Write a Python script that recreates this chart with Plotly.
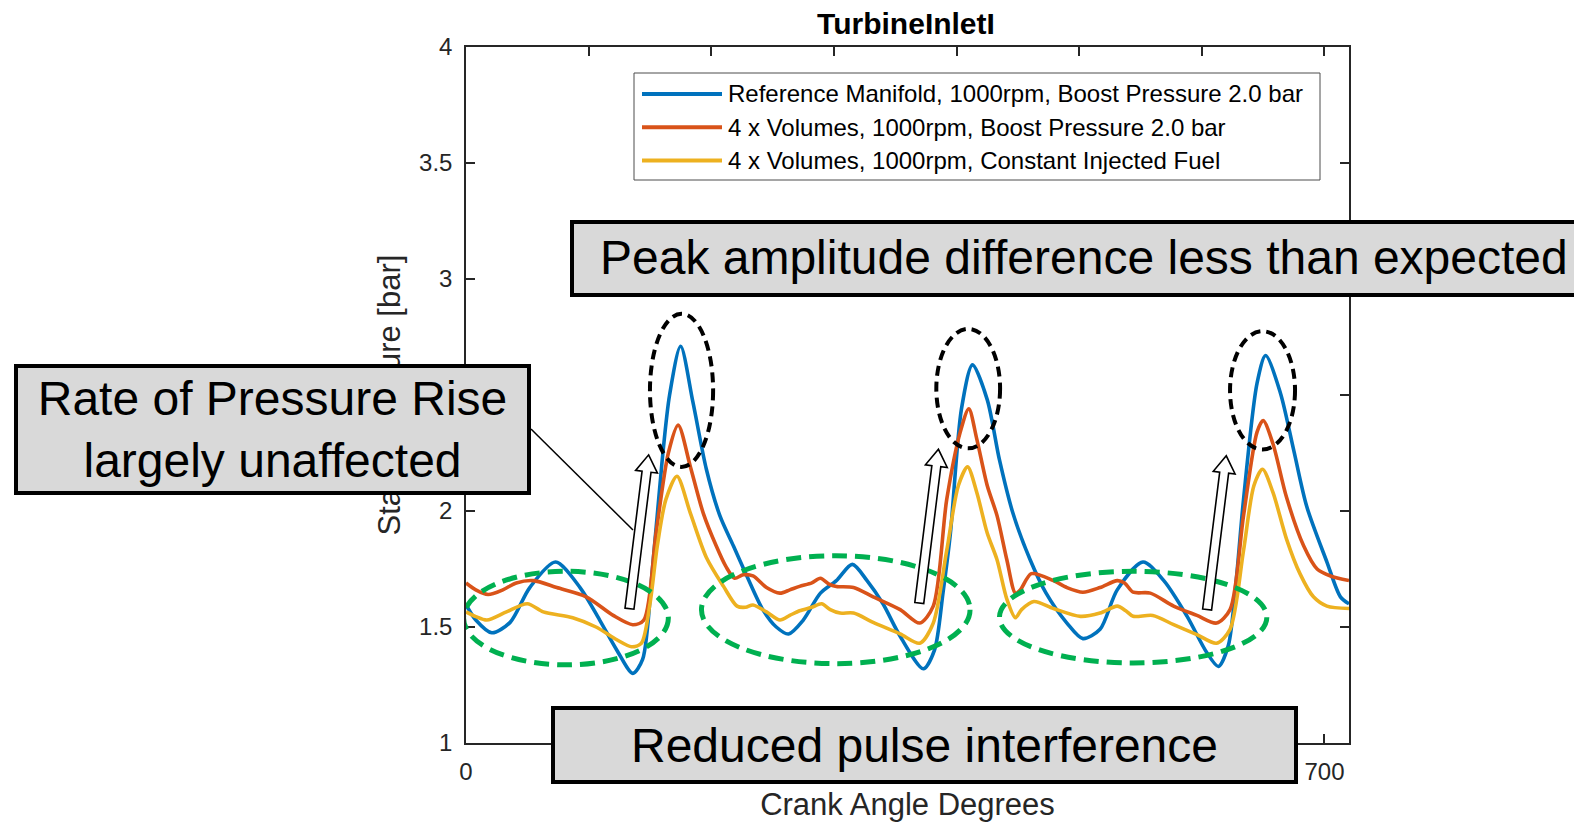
import numpy as np
import plotly.graph_objects as go

# ---------------- data ----------------
title_text = "TurbineInletI"
x_title = "Crank Angle Degrees"
y_title = "Static Pressure [bar]"

names = [
    "Reference Manifold, 1000rpm, Boost Pressure 2.0 bar",
    "4 x Volumes, 1000rpm, Boost Pressure 2.0 bar",
    "4 x Volumes, 1000rpm, Constant Injected Fuel",
]
colors = ["#0072BD", "#D95319", "#EDB120"]

ref_deg = [0, 8, 21, 36, 52, 73, 93, 109, 123, 136, 144, 152, 160, 166, 175, 185, 196, 207, 218,
           229, 242, 253, 263, 275, 289, 302, 315, 327, 340, 354, 373, 382, 389, 395, 404, 413, 425,
           435, 446, 460, 473, 490, 503, 517, 531, 552, 569, 588, 604, 613.5, 621.6, 628, 634, 645,
           652, 664, 675, 685.5, 702, 713, 720]
ref_bar = [1.596, 1.53, 1.475, 1.52, 1.67, 1.78, 1.67, 1.53, 1.40, 1.30, 1.36, 1.75, 2.22, 2.50,
           2.71, 2.47, 2.18, 1.98, 1.85, 1.72, 1.575, 1.50, 1.47, 1.53, 1.646, 1.70, 1.77, 1.70,
           1.60, 1.46, 1.32, 1.40, 1.65, 1.905, 2.44, 2.63, 2.48, 2.22, 1.99, 1.79, 1.646, 1.517,
           1.45, 1.49, 1.66, 1.78, 1.70, 1.546, 1.39, 1.33, 1.42, 1.70, 2.05, 2.55, 2.67, 2.51,
           2.26, 2.02, 1.78, 1.63, 1.60]

vol_deg = [0, 8, 18, 30, 41, 55, 74, 98, 120, 136, 145, 155, 165, 173, 183, 193.5, 204, 212, 219,
           226, 234, 245, 256, 264, 272, 282, 289, 296, 302, 316, 332, 354, 370, 381, 392, 403, 410,
           416.5, 425, 433, 441, 448, 452, 461, 479, 490, 503, 517, 531, 537, 544, 558, 577, 596,
           612, 623, 634, 645, 650, 658, 669, 683, 694, 705, 720]
vol_bar = [1.69, 1.66, 1.64, 1.66, 1.69, 1.70, 1.67, 1.63, 1.55, 1.51, 1.53, 1.906, 2.25, 2.37,
           2.19, 1.99, 1.85, 1.76, 1.71, 1.725, 1.72, 1.67, 1.646, 1.66, 1.675, 1.69, 1.71, 1.685,
           1.675, 1.67, 1.63, 1.575, 1.517, 1.59, 2.05, 2.34, 2.44, 2.31, 2.11, 1.98, 1.79, 1.646,
           1.66, 1.73, 1.70, 1.67, 1.65, 1.67, 1.70, 1.69, 1.65, 1.646, 1.59, 1.55, 1.517, 1.575,
           1.98, 2.34, 2.39, 2.29, 2.06, 1.85, 1.75, 1.72, 1.70]

fuel_deg = [0, 8, 17, 33, 50, 63, 87, 106, 123, 135, 143, 150, 156, 163, 172, 183, 196, 210, 221,
            228, 234, 245, 256, 264, 272, 282, 290, 297, 305, 316, 332, 354, 370, 381, 392, 401.5,
            409, 416.5, 425, 433, 441, 448, 453, 463, 479, 501, 517, 531, 538, 544, 560, 577, 596,
            612, 623, 634, 642.5, 649.5, 658, 669, 680, 691, 702, 720]
fuel_bar = [1.565, 1.545, 1.53, 1.565, 1.60, 1.565, 1.54, 1.50, 1.445, 1.415, 1.43, 1.60, 1.85,
            2.05, 2.15, 1.99, 1.80, 1.675, 1.59, 1.585, 1.595, 1.565, 1.53, 1.55, 1.57, 1.585, 1.60,
            1.575, 1.56, 1.56, 1.52, 1.47, 1.43, 1.517, 1.83, 2.11, 2.19, 2.08, 1.905, 1.79, 1.62,
            1.54, 1.575, 1.61, 1.58, 1.546, 1.56, 1.59, 1.57, 1.546, 1.55, 1.51, 1.467, 1.43, 1.49,
            1.83, 2.11, 2.18, 2.08, 1.88, 1.73, 1.63, 1.59, 1.58]

x_ticks = [0, 100, 200, 300, 400, 500, 600, 700]
y_ticks = [1, 1.5, 2, 2.5, 3, 3.5, 4]

box_peak = "Peak amplitude difference less than expected"
box_rate = "Rate of Pressure Rise<br>largely unaffected"
box_pulse = "Reduced pulse interference"

# ---------------- layout geometry ----------------
# the page body has an 8px margin, so the figure is sized to fit the window
OFF = 8
W, H = 1574, 814
ML, MR, MT, MB = 458, 233, 39, 79
PW, PH = W - ML - MR, H - MT - MB
XR = [0, 720]
YR = [1, 4]
FONT = "Liberation Sans, Arial, Helvetica, sans-serif"
AX = "#262626"
BOXFILL = "#D9D9D9"


def pxx(px):  # page pixel -> paper fraction
    return (px - OFF - ML) / PW


def pxy(py):
    return (H - MB - (py - OFF)) / PH


fig = go.Figure()
for xs, ys, nm, c in zip([ref_deg, vol_deg, fuel_deg], [ref_bar, vol_bar, fuel_bar], names, colors):
    fig.add_trace(go.Scatter(x=xs, y=ys, name=nm, mode="lines", showlegend=False,
                             line=dict(color=c, width=3.6, shape="spline", smoothing=0.8)))

shapes = []
# black dashed ellipses round the peaks (data coordinates)
for x0, x1, y0, y1 in [(150, 201.5, 2.19, 2.85), (383.5, 435.5, 2.27, 2.785), (623, 676, 2.265, 2.775)]:
    shapes.append(dict(type="circle", xref="x", yref="y", x0=x0, x1=x1, y0=y0, y1=y1,
                       line=dict(color="black", width=4, dash="10px,6px"), layer="above"))
# green dashed ellipses
for x0, x1, y0, y1 in [(-2, 165, 1.337, 1.74), (192, 411, 1.342, 1.807), (435, 653, 1.345, 1.74)]:
    shapes.append(dict(type="circle", xref="x", yref="y", x0=x0, x1=x1, y0=y0, y1=y1,
                       line=dict(color="#00B050", width=5, dash="15px,8px"), layer="above"))

# connector line from the text box to the first arrow
shapes.append(dict(type="line", xref="paper", yref="paper", x0=pxx(531), y0=pxy(429),
                   x1=pxx(633), y1=pxy(530), line=dict(color="black", width=1.5), layer="above"))


def block_arrow(bx, by, length=155, angle=7.1, shw=4.5, hhw=11, hl=17):
    a = np.radians(angle)
    ux, uy = np.sin(a), np.cos(a)
    nx, ny = uy, -ux
    pts = [(-shw, 0), (shw, 0), (shw, length - hl), (hhw, length - hl), (0, length),
           (-hhw, length - hl), (-shw, length - hl)]
    path = "M " + " L ".join(f"{s*nx + t*ux:.2f},{s*ny + t*uy:.2f}" for s, t in pts) + " Z"
    return dict(type="path", xref="x", yref="y", xsizemode="pixel", ysizemode="pixel",
                xanchor=bx, yanchor=by, path=path, fillcolor="white",
                line=dict(color="black", width=1.6), layer="above")


for bx, by in [(133.3, 1.579), (369.6, 1.603), (604.3, 1.575)]:
    shapes.append(block_arrow(bx, by))

# MATLAB-style legend
lg_l, lg_r, lg_t, lg_b = 634, 1320, 73, 180
shapes.append(dict(type="rect", xref="paper", yref="paper", x0=pxx(lg_l), x1=pxx(lg_r),
                   y0=pxy(lg_b), y1=pxy(lg_t), fillcolor="white",
                   line=dict(color="#4d4d4d", width=1), layer="above"))
row_y = [94, 127.3, 160.6]
annotations = []
for ry, c, nm in zip(row_y, colors, names):
    shapes.append(dict(type="line", xref="paper", yref="paper", x0=pxx(642), x1=pxx(722),
                       y0=pxy(ry), y1=pxy(ry), line=dict(color=c, width=4), layer="above"))
    annotations.append(dict(xref="paper", yref="paper", x=pxx(726), y=pxy(ry), text=nm,
                            xanchor="left", yanchor="middle", showarrow=False,
                            font=dict(family=FONT, size=24, color="black")))

# "Peak amplitude" box runs off the right edge of the page: drawn as a rectangle shape
shapes.append(dict(type="rect", xref="paper", yref="paper", x0=pxx(572), x1=pxx(1640),
                   y0=pxy(295), y1=pxy(222), fillcolor=BOXFILL,
                   line=dict(color="black", width=4), layer="above"))
annotations.append(dict(xref="paper", yref="paper", x=pxx(1084), y=pxy(258), text=box_peak,
                        xanchor="center", yanchor="middle", showarrow=False,
                        font=dict(family=FONT, size=48, color="black")))


def text_box(text, left, right, top, bottom, bw=4, bp=2):
    return dict(xref="paper", yref="paper", x=pxx((left + right) / 2), y=pxy((top + bottom) / 2),
                xanchor="center", yanchor="middle", text=text, showarrow=False,
                width=(right - left) - 2 * (bw + bp), height=(bottom - top) - 2 * (bw + bp),
                align="center", valign="middle", bgcolor=BOXFILL, bordercolor="black",
                borderwidth=bw, borderpad=bp, font=dict(family=FONT, size=48, color="black"))


annotations.append(text_box(box_rate, 14, 531, 364, 495))
annotations.append(text_box(box_pulse, 551, 1298, 706, 784))

axis_common = dict(showline=True, linecolor=AX, linewidth=1.5, mirror="ticks", ticks="inside",
                   ticklen=9, tickwidth=1.5, tickcolor=AX, showgrid=False, zeroline=False,
                   tickfont=dict(family=FONT, size=24, color=AX))

fig.update_layout(
    width=W, height=H,
    margin=dict(l=ML, r=MR, t=MT, b=MB, autoexpand=False),
    paper_bgcolor="white", plot_bgcolor="white",
    title=dict(text=title_text, xref="paper", x=pxx(906), xanchor="center",
               yref="container", y=1 - (23 - OFF) / H, yanchor="middle",
               font=dict(family=FONT, size=30, color="black", weight="bold")),
    xaxis=dict(range=XR, tickvals=x_ticks, ticklabelstandoff=6,
               title=dict(text=x_title, standoff=22, font=dict(family=FONT, size=31, color=AX)),
               **axis_common),
    yaxis=dict(range=YR, tickvals=y_ticks, ticklabelstandoff=7,
               title=dict(text=y_title, standoff=9, font=dict(family=FONT, size=31, color=AX)),
               **axis_common),
    shapes=shapes,
    annotations=annotations,
    showlegend=False,
)

fig.write_html("out.html")
